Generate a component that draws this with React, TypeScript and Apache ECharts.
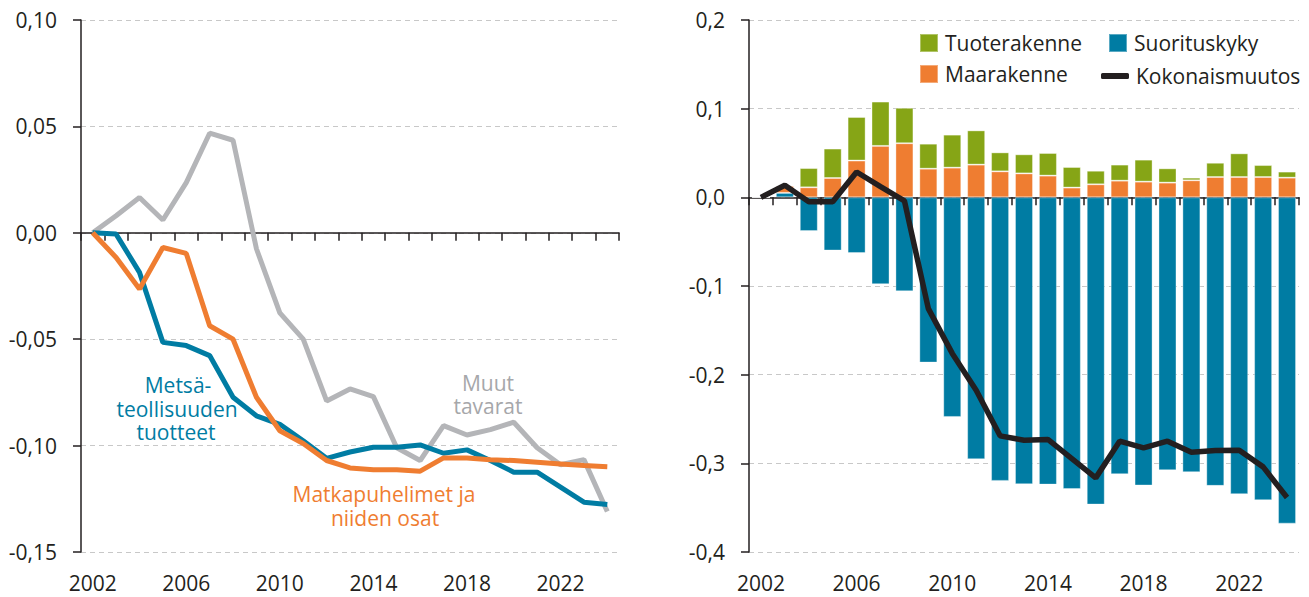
import React, { useEffect, useRef } from "react";
import * as echarts from "echarts";

const years = ["2002","2003","2004","2005","2006","2007","2008","2009","2010","2011","2012","2013","2014","2015","2016","2017","2018","2019","2020","2021","2022","2023","2024"];

// Left panel
const metsa = [0, -0.0006, -0.0186, -0.0515, -0.053, -0.0577, -0.0773, -0.086, -0.09, -0.0977, -0.106, -0.103, -0.1008, -0.1008, -0.0997, -0.1036, -0.102, -0.107, -0.1125, -0.1125, -0.1195, -0.1266, -0.1277];
const matka = [0, -0.0116, -0.0264, -0.0069, -0.0097, -0.0437, -0.05, -0.0773, -0.093, -0.099, -0.107, -0.1105, -0.1114, -0.1114, -0.112, -0.1058, -0.1058, -0.1067, -0.107, -0.1078, -0.1086, -0.1094, -0.1099];
const muut = [0, 0.008, 0.0166, 0.006, 0.0236, 0.0468, 0.0435, -0.0075, -0.0376, -0.05, -0.079, -0.0734, -0.077, -0.101, -0.107, -0.0906, -0.095, -0.0925, -0.089, -0.101, -0.109, -0.1066, -0.131];

// Right panel
const suorituskyky = [0, 0.005, -0.038, -0.06, -0.0628, -0.098, -0.106, -0.1864, -0.2477, -0.2954, -0.3198, -0.3236, -0.324, -0.329, -0.3465, -0.3123, -0.325, -0.3078, -0.31, -0.3254, -0.3348, -0.3416, -0.368];
const maarakenne = [0, 0.008, 0.0113, 0.0218, 0.0415, 0.058, 0.061, 0.0323, 0.0335, 0.0369, 0.0293, 0.027, 0.0245, 0.011, 0.0147, 0.0188, 0.0177, 0.0166, 0.0192, 0.0229, 0.0229, 0.0229, 0.0222];
const tuoterakenne = [0, 0, 0.0217, 0.0332, 0.0491, 0.05, 0.04, 0.0282, 0.0372, 0.0386, 0.0214, 0.0215, 0.0255, 0.0232, 0.0153, 0.0181, 0.0248, 0.0161, 0.003, 0.0161, 0.0267, 0.0135, 0.0068];
const kokonais = [0, 0.0136, -0.005, -0.005, 0.0286, 0.012, -0.004, -0.1255, -0.176, -0.2176, -0.269, -0.274, -0.273, -0.2946, -0.3164, -0.275, -0.2826, -0.275, -0.2875, -0.2856, -0.2852, -0.304, -0.3386];

const FONT = "'Open Sans', sans-serif";
const DARK = "#231f20";
const TEAL = "#007ca3";
const ORANGE = "#ef7d31";
const GREEN = "#86a516";
const GRAY = "#b4b5b8";

function fmt(dec: number) {
  return (v: number) => {
    const x = Math.abs(v) < 1e-9 ? 0 : v;
    return x.toFixed(dec).replace(".", ",");
  };
}

function xAxes(gridIndex: number) {
  return [
    {
      type: "category",
      gridIndex,
      data: years,
      position: "bottom",
      boundaryGap: true,
      axisLine: { show: true, onZero: true, lineStyle: { color: DARK, width: 1.5 } },
      axisTick: { show: true, interval: 0, length: 8, lineStyle: { color: DARK, width: 1.5 } },
      axisLabel: { show: false },
      splitLine: { show: false },
    },
    {
      type: "category",
      gridIndex,
      data: years,
      position: "bottom",
      boundaryGap: true,
      axisLine: { show: false, onZero: false },
      axisTick: { show: false },
      axisLabel: { show: true, interval: 3, margin: 20, fontSize: 21, color: DARK, fontFamily: FONT },
      splitLine: { show: false },
    },
  ];
}

function yAxis(gridIndex: number, min: number, max: number, interval: number, dec: number) {
  return {
    type: "value",
    gridIndex,
    min,
    max,
    interval,
    axisLine: { show: true, onZero: false, lineStyle: { color: DARK, width: 1.5 } },
    axisTick: { show: true, length: 8, lineStyle: { color: DARK, width: 1.5 } },
    axisLabel: { fontSize: 21, color: DARK, fontFamily: FONT, margin: 24, formatter: fmt(dec) },
    splitLine: { show: true, lineStyle: { color: "#c8c8c8", type: [5, 4], width: 1 } },
  };
}

function label(text: string, x: number, y: number, fill: string) {
  return { type: "text", x, y, style: { text, fill, font: `21px ${FONT}`, lineHeight: 19, align: "center", verticalAlign: "middle" } };
}

export default function App() {
  const ref = useRef<HTMLDivElement>(null);
  useEffect(() => {
    document.body.style.margin = "0";
    const chart = echarts.init(ref.current!, null, { renderer: "svg" });
    const legendText = { fontSize: 21, color: DARK, fontFamily: FONT, lineHeight: 21, padding: [0, 0, 0, 2] };
    chart.setOption({
      animation: false,
      textStyle: { fontFamily: FONT },
      grid: [
        { left: 81, top: 20, width: 538, height: 532 },
        { left: 749, top: 20, width: 550, height: 532 },
      ],
      xAxis: [...xAxes(0), ...xAxes(1)],
      yAxis: [yAxis(0, -0.15, 0.1, 0.05, 2), yAxis(1, -0.4, 0.2, 0.1, 1)],
      legend: [
        { data: ["Tuoterakenne"], left: 914, top: 27.5, itemWidth: 18, itemHeight: 18, icon: "rect", selectedMode: false, textStyle: legendText },
        { data: ["Maarakenne"], left: 914, top: 58.5, itemWidth: 18, itemHeight: 18, icon: "rect", selectedMode: false, textStyle: legendText },
        { data: ["Suorituskyky"], left: 1103, top: 27.5, itemWidth: 18, itemHeight: 18, icon: "rect", selectedMode: false, textStyle: legendText },
        { data: ["Kokonaismuutos"], left: 1096, top: 60.5, itemWidth: 28, itemHeight: 6, icon: "roundRect", selectedMode: false, textStyle: legendText },
      ],
      series: [
        { name: "Metsäteollisuuden tuotteet", type: "line", xAxisIndex: 0, yAxisIndex: 0, data: metsa, symbol: "none", lineStyle: { color: TEAL, width: 5 }, itemStyle: { color: TEAL }, z: 3 },
        { name: "Matkapuhelimet ja niiden osat", type: "line", xAxisIndex: 0, yAxisIndex: 0, data: matka, symbol: "none", lineStyle: { color: ORANGE, width: 5 }, itemStyle: { color: ORANGE }, z: 4 },
        { name: "Muut tavarat", type: "line", xAxisIndex: 0, yAxisIndex: 0, data: muut, symbol: "none", lineStyle: { color: GRAY, width: 5 }, itemStyle: { color: GRAY }, z: 2 },
        { name: "Suorituskyky", type: "bar", stack: "tot", xAxisIndex: 2, yAxisIndex: 1, data: suorituskyky, barWidth: 18, itemStyle: { color: TEAL, borderColor: "rgba(255,255,255,0.35)", borderWidth: 1 } },
        { name: "Maarakenne", type: "bar", stack: "tot", xAxisIndex: 2, yAxisIndex: 1, data: maarakenne, barWidth: 18, itemStyle: { color: ORANGE, borderColor: "rgba(255,255,255,0.35)", borderWidth: 1 } },
        { name: "Tuoterakenne", type: "bar", stack: "tot", xAxisIndex: 2, yAxisIndex: 1, data: tuoterakenne, barWidth: 18, itemStyle: { color: GREEN, borderColor: "rgba(255,255,255,0.35)", borderWidth: 1 } },
        { name: "Kokonaismuutos", type: "line", xAxisIndex: 2, yAxisIndex: 1, data: kokonais, symbol: "none", lineStyle: { color: DARK, width: 5.5 }, itemStyle: { color: DARK }, z: 5 },
      ],
      graphic: [
        label("Metsä-", 178, 385, TEAL),
        label("teollisuuden", 177, 409, TEAL),
        label("tuotteet", 176, 432, TEAL),
        label("Muut", 488, 383, "#a6a7aa"),
        label("tavarat", 488, 406, "#a6a7aa"),
        label("Matkapuhelimet ja", 384, 494, ORANGE),
        label("niiden osat", 385, 518, ORANGE),
      ],
    });
    return () => chart.dispose();
  }, []);
  return <div ref={ref} style={{ width: 1309, height: 597 }} />;
}
